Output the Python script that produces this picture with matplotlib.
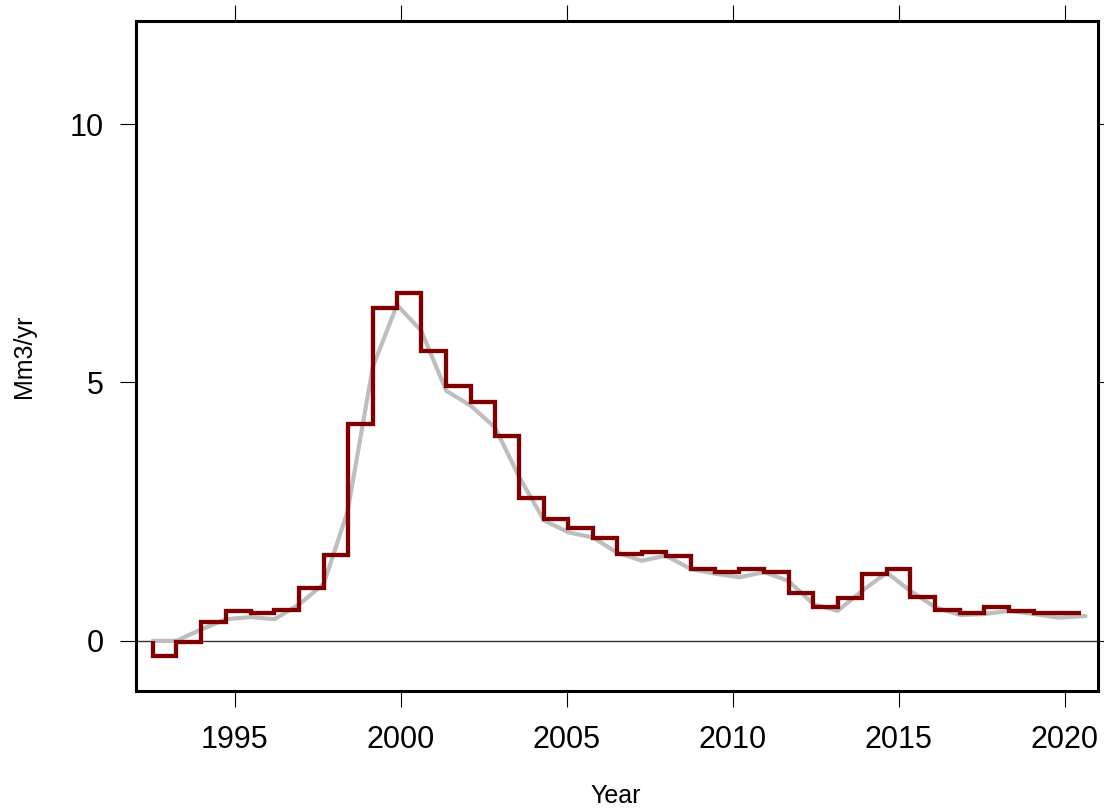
import matplotlib
matplotlib.use("Agg")
import matplotlib.pyplot as plt

plt.rcParams['font.family'] = ['Liberation Sans', 'DejaVu Sans']

# Step (binned) series: bin edges (years) and values (Mm3/yr); series starts from 0
edges = [1992.53, 1993.24, 1993.99, 1994.74, 1995.49, 1996.20, 1996.95, 1997.68,
         1998.40, 1999.16, 1999.89, 2000.62, 2001.37, 2002.11, 2002.84, 2003.57,
         2004.32, 2005.05, 2005.79, 2006.51, 2007.26, 2007.98, 2008.74, 2009.47,
         2010.20, 2010.95, 2011.68, 2012.43, 2013.16, 2013.90, 2014.64, 2015.34,
         2016.10, 2016.85, 2017.58, 2018.32, 2019.06, 2019.80, 2020.50]
step_start = 0.0
step_values = [-0.29, -0.02, 0.37, 0.57, 0.53, 0.59, 1.03, 1.67, 4.20, 6.44, 6.74,
               5.60, 4.93, 4.62, 3.97, 2.76, 2.36, 2.18, 2.00, 1.69, 1.72, 1.65, 1.39,
               1.33, 1.39, 1.34, 0.92, 0.66, 0.82, 1.30, 1.39, 0.84, 0.60, 0.54,
               0.65, 0.57, 0.54, 0.54]

# Smooth (gray) series
smooth_years = [1992.53, 1993.24, 1993.99, 1994.74, 1995.49, 1996.20, 1996.95, 1997.68,
                1998.40, 1999.16, 1999.89, 2000.62, 2001.37, 2002.11, 2002.84, 2003.57,
                2004.32, 2005.05, 2005.79, 2006.51, 2007.26, 2007.98, 2008.74, 2009.47,
                2010.20, 2010.95, 2011.68, 2012.43, 2013.16, 2013.90, 2014.64, 2015.34,
                2016.10, 2016.85, 2017.58, 2018.32, 2019.06, 2019.80, 2020.62]
smooth_values = [0.00, 0.00, 0.22, 0.42, 0.46, 0.42, 0.71, 1.10, 2.50, 5.30, 6.50,
                 6.00, 4.84, 4.55, 4.13, 3.17, 2.33, 2.10, 2.00, 1.71, 1.55, 1.65, 1.39,
                 1.30, 1.23, 1.33, 1.16, 0.71, 0.58, 0.97, 1.32, 0.97, 0.65, 0.50,
                 0.52, 0.58, 0.52, 0.45, 0.48]

xticks = [1995, 2000, 2005, 2010, 2015, 2020]
yticks = [0, 5, 10]

fig = plt.figure(figsize=(11.04, 8.09), dpi=100)
ax = fig.add_axes([135.7/1104, 1 - 691/809, (1098 - 135.7)/1104, (691 - 20.7)/809])

ax.axhline(0, color='#333333', lw=1.0, zorder=1)
ax.plot(smooth_years, smooth_values, color='#bebebe', lw=3.0, zorder=2,
        solid_joinstyle='round', solid_capstyle='round')
ax.step(edges, [step_start] + step_values, where='pre', color='#7f0000', lw=3.1,
        zorder=3, solid_joinstyle='miter', solid_capstyle='butt')

ax.set_xlim(1992.02, 2021.0)
ax.set_ylim(-0.97, 12.0)
ax.set_xticks(xticks)
ax.set_yticks(yticks)
ax.set_xticklabels([str(t) for t in xticks])
ax.set_yticklabels([str(t) for t in yticks])

for s in ax.spines.values():
    s.set_linewidth(2.2)
    s.set_color('black')

ax.tick_params(axis='both', which='major', direction='out', length=11.5, width=0.8,
               labelsize=22, top=True, right=True, labeltop=False, labelright=False,
               color='black')
ax.tick_params(axis='x', pad=13)
ax.tick_params(axis='y', pad=11.5)

ax.set_xlabel('Year', fontsize=18)
ax.set_ylabel('Mm3/yr', fontsize=18)
ax.xaxis.set_label_coords((616 - 135.7)/962.3, (691 - 796)/670.3)
ax.xaxis.label.set_va('center')
ax.yaxis.set_label_coords((24 - 135.7)/962.3, 0.5)
ax.yaxis.label.set_va('center')

fig.savefig('out.png', dpi=100)
